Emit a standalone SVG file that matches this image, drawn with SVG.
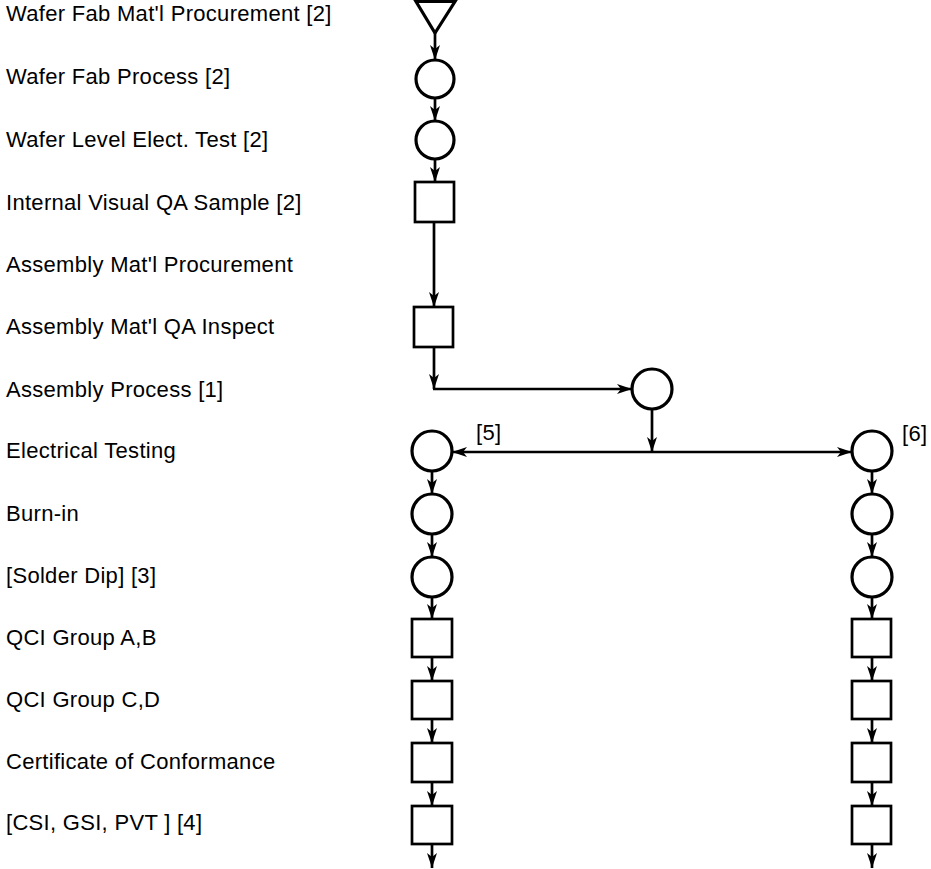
<svg xmlns="http://www.w3.org/2000/svg" width="931" height="869" viewBox="0 0 931 869">
<style>
  .lbl { font-family: "Liberation Sans", Arial, sans-serif; font-size: 22px; letter-spacing: 0.3px; fill: #000; }
  .shape { fill: #fff; stroke: #000; stroke-width: 3.2; }
  .box { fill: #fff; stroke: #000; stroke-width: 2.7; }
  .conn line { stroke: #000; stroke-width: 2.7; fill: none; }
  .arr { marker-end: url(#ah); }
</style>
<defs>
  <marker id="ah" viewBox="-16 -6 17 12" refX="0" refY="0" markerWidth="17" markerHeight="12" markerUnits="userSpaceOnUse" orient="auto">
    <path d="M0,0 L-15,-5 L-11,0 L-15,5 Z" fill="#000"/>
  </marker>
</defs>
<rect width="931" height="869" fill="#fff"/>

<g id="labels">
  <text class="lbl" x="6" y="21">Wafer Fab Mat'l Procurement [2]</text>
  <text class="lbl" x="6" y="84">Wafer Fab Process [2]</text>
  <text class="lbl" x="6" y="147">Wafer Level Elect. Test [2]</text>
  <text class="lbl" x="6" y="210">Internal Visual QA Sample [2]</text>
  <text class="lbl" x="6" y="272">Assembly Mat'l Procurement</text>
  <text class="lbl" x="6" y="334">Assembly Mat'l QA Inspect</text>
  <text class="lbl" x="6" y="397">Assembly Process [1]</text>
  <text class="lbl" x="6" y="458">Electrical Testing</text>
  <text class="lbl" x="6" y="521">Burn-in</text>
  <text class="lbl" x="6" y="583">[Solder Dip] [3]</text>
  <text class="lbl" x="6" y="645">QCI Group A,B</text>
  <text class="lbl" x="6" y="707">QCI Group C,D</text>
  <text class="lbl" x="6" y="769">Certificate of Conformance</text>
  <text class="lbl" x="6" y="830">[CSI, GSI, PVT ] [4]</text>
</g>

<g id="conn" class="conn">
  <line class="arr" x1="435" y1="33" x2="435" y2="60"/>
  <line class="arr" x1="435" y1="98" x2="435" y2="121"/>
  <line class="arr" x1="435" y1="159" x2="435" y2="182"/>
  <line class="arr" x1="434" y1="222" x2="434" y2="307"/>
  <line class="arr" x1="434" y1="347" x2="434" y2="389"/>
  <line class="arr" x1="433" y1="389" x2="632" y2="389"/>
  <line class="arr" x1="652" y1="409" x2="652" y2="452"/>
  <line class="arr" x1="652" y1="452" x2="452" y2="452"/>
  <line class="arr" x1="652" y1="452" x2="852" y2="452"/>
  <line class="arr" x1="432" y1="471" x2="432" y2="494"/>
  <line class="arr" x1="432" y1="534" x2="432" y2="557"/>
  <line class="arr" x1="432" y1="597" x2="432" y2="619"/>
  <line class="arr" x1="432" y1="657" x2="432" y2="681"/>
  <line class="arr" x1="432" y1="719" x2="432" y2="743"/>
  <line class="arr" x1="432" y1="782" x2="432" y2="806"/>
  <line class="arr" x1="432" y1="844" x2="432" y2="868"/>
  <line class="arr" x1="872" y1="471" x2="872" y2="494"/>
  <line class="arr" x1="872" y1="534" x2="872" y2="557"/>
  <line class="arr" x1="872" y1="597" x2="872" y2="619"/>
  <line class="arr" x1="872" y1="657" x2="872" y2="681"/>
  <line class="arr" x1="872" y1="719" x2="872" y2="743"/>
  <line class="arr" x1="872" y1="782" x2="872" y2="806"/>
  <line class="arr" x1="872" y1="844" x2="872" y2="868"/>
</g>

<g id="n-wafer-mat"><polygon class="shape" points="416,1.5 455,1.5 435,33"/></g>
<g id="n-wafer-fab"><circle class="shape" cx="435" cy="79" r="19"/></g>
<g id="n-wafer-test"><circle class="shape" cx="435" cy="140" r="19"/></g>
<g id="n-visual-qa"><rect class="box" x="415" y="182" width="39" height="40"/></g>
<g id="n-asm-qa"><rect class="box" x="414" y="307" width="39" height="40"/></g>
<g id="n-asm-process"><circle class="shape" cx="652" cy="389" r="20"/></g>

<g id="n-elec-5"><circle class="shape" cx="432" cy="451" r="20"/></g>
<g id="n-burn-5"><circle class="shape" cx="432" cy="514" r="20"/></g>
<g id="n-solder-5"><circle class="shape" cx="432" cy="577" r="20"/></g>
<g id="n-qciab-5"><rect class="box" x="412" y="619" width="40" height="38"/></g>
<g id="n-qcicd-5"><rect class="box" x="412" y="681" width="40" height="38"/></g>
<g id="n-coc-5"><rect class="box" x="412" y="743" width="40" height="39"/></g>
<g id="n-csi-5"><rect class="box" x="412" y="806" width="40" height="38"/></g>
<g id="l5"><text class="lbl" x="476" y="440">[5]</text></g>

<g id="n-elec-6"><circle class="shape" cx="872" cy="451" r="20"/></g>
<g id="n-burn-6"><circle class="shape" cx="872" cy="514" r="20"/></g>
<g id="n-solder-6"><circle class="shape" cx="872" cy="577" r="20"/></g>
<g id="n-qciab-6"><rect class="box" x="852" y="619" width="39" height="38"/></g>
<g id="n-qcicd-6"><rect class="box" x="852" y="681" width="39" height="38"/></g>
<g id="n-coc-6"><rect class="box" x="852" y="743" width="39" height="39"/></g>
<g id="n-csi-6"><rect class="box" x="852" y="806" width="39" height="38"/></g>
<g id="l6"><text class="lbl" x="902" y="441">[6]</text></g>
</svg>
